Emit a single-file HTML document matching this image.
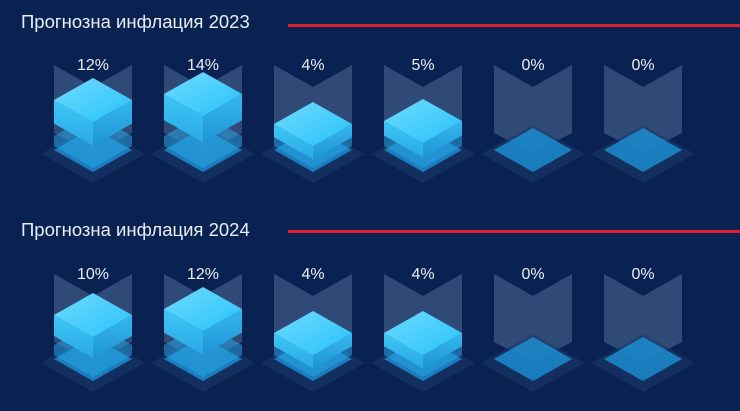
<!DOCTYPE html>
<html><head><meta charset="utf-8"><style>
html,body{margin:0;padding:0;background:#0a2252;width:740px;height:411px;overflow:hidden}
svg{display:block}
text{font-family:"Liberation Sans","Noto Sans CJK SC",sans-serif}
</style></head><body>
<svg id="chart" width="740" height="411" viewBox="0 0 740 411" xmlns="http://www.w3.org/2000/svg">
<defs>
<linearGradient id="topG" x1="0" y1="0" x2="1" y2="1"><stop offset="0" stop-color="#6fdcff"/><stop offset="1" stop-color="#28c1fa"/></linearGradient>
<linearGradient id="leftG" x1="0" y1="0" x2="0" y2="1"><stop offset="0" stop-color="#3ec6f5"/><stop offset="1" stop-color="#2aa9e6"/></linearGradient>
<linearGradient id="rightG" x1="0" y1="0" x2="0" y2="1"><stop offset="0" stop-color="#34b8ee"/><stop offset="1" stop-color="#1f95d6"/></linearGradient>
</defs>
<text x="21" y="28" font-size="18.5" fill="#e8eef8">Прогнозна инфлация 2023</text>
<rect x="288" y="24" width="452" height="3" fill="#e0202e"/>
<text x="21" y="236" font-size="18.5" fill="#e8eef8">Прогнозна инфлация 2024</text>
<rect x="288" y="230" width="452" height="3" fill="#e0202e"/>
</svg>
<script>
const categories = ["c1","c2","c3","c4","c5","c6"];
const values2023 = [12, 14, 4, 5, 0, 0];
const values2024 = [10, 12, 4, 4, 0, 0];
const labels2023 = ["12%","14%","4%","5%","0%","0%"];
const labels2024 = ["10%","12%","4%","4%","0%","0%"];

const NS = "http://www.w3.org/2000/svg";
const svg = document.getElementById("chart");
const colX = i => 93 + i * 110;
const topY = v => 150 - (14 + 3 * v);
const thick = v => 8 + 1.3 * v;
const HW = 39, HH = 22;

function poly(g, pts, fill, op) {
  const p = document.createElementNS(NS, "polygon");
  p.setAttribute("points", pts.map(a => a.join(",")).join(" "));
  p.setAttribute("fill", fill);
  if (op !== undefined) p.setAttribute("opacity", op);
  g.appendChild(p);
  return p;
}
function diamond(cx, cy, hw, hh) { return [[cx, cy - hh], [cx + hw, cy], [cx, cy + hh], [cx - hw, cy]]; }

function drawRow(vals, labels, dy, year) {
  vals.forEach((v, i) => {
    const cx = colX(i);
    const g = document.createElementNS(NS, "g");
    
    
    g.setAttribute("transform", "translate(0," + dy + ")");
    svg.appendChild(g);
    poly(g, [[cx - HW, 65], [cx, 87], [cx + HW, 65], [cx + HW, 133], [cx, 153], [cx - HW, 133]], "#8aa9cf", 0.3);
    poly(g, diamond(cx, 154, 52, 29), "#1a3a6a", 0.55);
    poly(g, diamond(cx, 150, HW, HH), "#1c8ccf", 0.85);
    if (v > 0) {
      poly(g, [[cx - HW, 136], [cx, 114], [cx + HW, 136], [cx + HW, 146], [cx, 168], [cx - HW, 146]], "#2aa4e0", 0.55);
      const t = topY(v), h = thick(v);
      poly(g, [[cx - HW, t], [cx, t + HH], [cx, t + HH + h], [cx - HW, t + h]], "url(#leftG)");
      poly(g, [[cx + HW, t], [cx, t + HH], [cx, t + HH + h], [cx + HW, t + h]], "url(#rightG)");
      poly(g, diamond(cx, t, HW, HH), "url(#topG)");
    }
    const tx = document.createElementNS(NS, "text");
    
    
    tx.setAttribute("x", cx);
    tx.setAttribute("y", 70 + dy);
    tx.setAttribute("text-anchor", "middle");
    tx.setAttribute("font-size", "16");
    tx.setAttribute("fill", "#e8eef8");
    tx.textContent = labels[i];
    svg.appendChild(tx);
  });
}
drawRow(values2023, labels2023, 0, "2023");
drawRow(values2024, labels2024, 209, "2024");
</script>
</body></html>
